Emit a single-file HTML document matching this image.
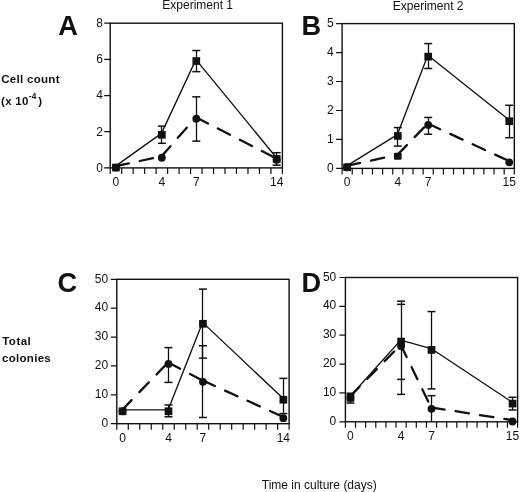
<!DOCTYPE html>
<html><head><meta charset="utf-8"><style>
html,body{margin:0;padding:0;background:#fff;}
body{width:520px;height:492px;overflow:hidden;}
svg{display:block;filter:grayscale(1);font-family:"Liberation Sans", sans-serif;font-size:12px;fill:#111;}
</style></head><body>
<svg width="520" height="492" viewBox="0 0 520 492">
<text x="162.3" y="9" font-size="12">Experiment 1</text>
<text x="392.8" y="9.9" font-size="12">Experiment 2</text>
<g font-weight="bold" font-size="11.5" letter-spacing="0.3">
<text x="1.2" y="83.2">Cell count</text>
<text x="1" y="105">(x 10<tspan font-size="8.2" dy="-6.5">-4</tspan><tspan dy="6.5" dx="1.6">)</tspan></text>
<text x="2.2" y="345.3" letter-spacing="0.5">Total</text>
<text x="2" y="361.6">colonies</text>
</g>
<text x="261.8" y="488.7" font-size="12">Time in culture (days)</text>
<g><rect x="110.2" y="23.2" width="172.2" height="144.7" fill="none" stroke="#111" stroke-width="1.4"/><path d="M110.2 167.9V173.9M121.68 167.9V173.9M133.16 167.9V173.9M144.64 167.9V173.9M156.12 167.9V173.9M167.6 167.9V173.9M179.08 167.9V173.9M190.56 167.9V173.9M202.04 167.9V173.9M213.52 167.9V173.9M225 167.9V173.9M236.48 167.9V173.9M247.96 167.9V173.9M259.44 167.9V173.9M270.92 167.9V173.9M282.4 167.9V173.9M104.2 167.9H110.2M104.2 131.72H110.2M104.2 95.55H110.2M104.2 59.38H110.2M104.2 23.2H110.2" stroke="#111" stroke-width="1.2" fill="none"/><text x="102.9" y="171.8" text-anchor="end">0</text><text x="102.9" y="135.62" text-anchor="end">2</text><text x="102.9" y="99.45" text-anchor="end">4</text><text x="102.9" y="63.27" text-anchor="end">6</text><text x="102.9" y="27.1" text-anchor="end">8</text><text x="115.94" y="185.9" text-anchor="middle">0</text><text x="161.86" y="185.9" text-anchor="middle">4</text><text x="196.3" y="185.9" text-anchor="middle">7</text><text x="276.66" y="185.9" text-anchor="middle">14</text><path d="M161.5 143.3V126.12" stroke="#111" stroke-width="1.3"/><path d="M157.86 143.3H165.86" stroke="#111" stroke-width="1.5"/><path d="M157.86 126.12H165.86" stroke="#111" stroke-width="1.5"/><path d="M196.5 71.67V50.51" stroke="#111" stroke-width="1.3"/><path d="M192.3 71.67H200.3" stroke="#111" stroke-width="1.5"/><path d="M192.3 50.51H200.3" stroke="#111" stroke-width="1.5"/><path d="M196.5 141.13V96.82" stroke="#111" stroke-width="1.3"/><path d="M192.3 141.13H200.3" stroke="#111" stroke-width="1.5"/><path d="M192.3 96.82H200.3" stroke="#111" stroke-width="1.5"/><path d="M276.5 165.19V152.71" stroke="#111" stroke-width="1.3"/><path d="M272.66 165.19H280.66" stroke="#111" stroke-width="1.5"/><path d="M272.66 152.71H280.66" stroke="#111" stroke-width="1.5"/><path d="M115.54 166.14L161.46 156.37" stroke="#111" stroke-width="2.3" stroke-dasharray="13.6 11.1" stroke-linecap="round" fill="none"/><path d="M161.46 156.37L195.9 117.3" stroke="#111" stroke-width="2.3" stroke-dasharray="13.6 11.1" stroke-linecap="round" fill="none"/><path d="M195.9 117.3L276.26 158.36" stroke="#111" stroke-width="2.3" stroke-dasharray="13.6 11.1" stroke-linecap="round" fill="none"/><path d="M115.54 166.14L161.46 133.4L195.9 59.6L276.26 157.46" stroke="#111" stroke-width="1.35" fill="none" stroke-linejoin="round"/><circle cx="115.94" cy="167.54" r="3.9" fill="#111"/><circle cx="161.86" cy="157.77" r="3.9" fill="#111"/><circle cx="196.3" cy="118.7" r="3.9" fill="#111"/><circle cx="276.66" cy="159.76" r="3.9" fill="#111"/><rect x="112.09" y="163.69" width="7.7" height="7.7" fill="#111"/><rect x="158.01" y="130.95" width="7.7" height="7.7" fill="#111"/><rect x="192.45" y="57.15" width="7.7" height="7.7" fill="#111"/><rect x="272.81" y="155.01" width="7.7" height="7.7" fill="#111"/><text x="58.3" y="34.5" font-size="27.2" font-weight="bold">A</text></g>
<g><rect x="342.1" y="23.6" width="172.2" height="144.8" fill="none" stroke="#111" stroke-width="1.4"/><path d="M342.1 168.4V174.4M352.23 168.4V174.4M362.36 168.4V174.4M372.49 168.4V174.4M382.62 168.4V174.4M392.75 168.4V174.4M402.88 168.4V174.4M413.01 168.4V174.4M423.14 168.4V174.4M433.26 168.4V174.4M443.39 168.4V174.4M453.52 168.4V174.4M463.65 168.4V174.4M473.78 168.4V174.4M483.91 168.4V174.4M494.04 168.4V174.4M504.17 168.4V174.4M514.3 168.4V174.4M336.1 168.4H342.1M336.1 139.44H342.1M336.1 110.48H342.1M336.1 81.52H342.1M336.1 52.56H342.1M336.1 23.6H342.1" stroke="#111" stroke-width="1.2" fill="none"/><text x="333.8" y="171.5" text-anchor="end">0</text><text x="333.8" y="142.54" text-anchor="end">1</text><text x="333.8" y="113.58" text-anchor="end">2</text><text x="333.8" y="84.62" text-anchor="end">3</text><text x="333.8" y="55.66" text-anchor="end">4</text><text x="333.8" y="26.7" text-anchor="end">5</text><text x="347.16" y="186.4" text-anchor="middle">0</text><text x="397.81" y="186.4" text-anchor="middle">4</text><text x="428.2" y="186.4" text-anchor="middle">7</text><text x="509.24" y="186.4" text-anchor="middle">15</text><path d="M397.5 146.1V127.57" stroke="#111" stroke-width="1.3"/><path d="M393.81 146.1H401.81" stroke="#111" stroke-width="1.5"/><path d="M393.81 127.57H401.81" stroke="#111" stroke-width="1.5"/><path d="M428.5 68.49V43.58" stroke="#111" stroke-width="1.3"/><path d="M424.2 68.49H432.2" stroke="#111" stroke-width="1.5"/><path d="M424.2 43.58H432.2" stroke="#111" stroke-width="1.5"/><path d="M428.5 134.23V117.43" stroke="#111" stroke-width="1.3"/><path d="M424.2 134.23H432.2" stroke="#111" stroke-width="1.5"/><path d="M424.2 117.43H432.2" stroke="#111" stroke-width="1.5"/><path d="M509.5 137.7V105.27" stroke="#111" stroke-width="1.3"/><path d="M505.24 137.7H513.24" stroke="#111" stroke-width="1.5"/><path d="M505.24 105.27H513.24" stroke="#111" stroke-width="1.5"/><path d="M346.76 165.84L397.41 154.84" stroke="#111" stroke-width="2.3" stroke-dasharray="13.6 11.1" stroke-linecap="round" fill="none"/><path d="M397.41 154.84L427.8 123.56" stroke="#111" stroke-width="2.3" stroke-dasharray="13.6 11.1" stroke-linecap="round" fill="none"/><path d="M427.8 123.56L508.84 160.92" stroke="#111" stroke-width="2.3" stroke-dasharray="13.6 11.1" stroke-linecap="round" fill="none"/><path d="M346.76 165.84L397.41 134.56L427.8 55.21L508.84 119.8" stroke="#111" stroke-width="1.35" fill="none" stroke-linejoin="round"/><circle cx="347.16" cy="167.24" r="3.9" fill="#111"/><rect x="393.96" y="152.69" width="7.7" height="7.1" rx="1.2" fill="#111"/><circle cx="428.2" cy="124.96" r="3.9" fill="#111"/><circle cx="509.24" cy="162.32" r="3.9" fill="#111"/><rect x="343.31" y="163.39" width="7.7" height="7.7" fill="#111"/><rect x="393.96" y="132.11" width="7.7" height="7.7" fill="#111"/><rect x="424.35" y="52.76" width="7.7" height="7.7" fill="#111"/><rect x="505.39" y="117.35" width="7.7" height="7.7" fill="#111"/><text x="301.4" y="34.9" font-size="27.2" font-weight="bold">B</text></g>
<g><rect x="116.8" y="279.3" width="172.3" height="144.4" fill="none" stroke="#111" stroke-width="1.4"/><path d="M116.8 423.7V429.7M128.29 423.7V429.7M139.77 423.7V429.7M151.26 423.7V429.7M162.75 423.7V429.7M174.23 423.7V429.7M185.72 423.7V429.7M197.21 423.7V429.7M208.69 423.7V429.7M220.18 423.7V429.7M231.67 423.7V429.7M243.15 423.7V429.7M254.64 423.7V429.7M266.13 423.7V429.7M277.61 423.7V429.7M289.1 423.7V429.7M110.8 423.7H116.8M110.8 394.82H116.8M110.8 365.94H116.8M110.8 337.06H116.8M110.8 308.18H116.8M110.8 279.3H116.8" stroke="#111" stroke-width="1.2" fill="none"/><text x="108.1" y="426.9" text-anchor="end">0</text><text x="108.1" y="398.02" text-anchor="end">10</text><text x="108.1" y="369.14" text-anchor="end">20</text><text x="108.1" y="340.26" text-anchor="end">30</text><text x="108.1" y="311.38" text-anchor="end">40</text><text x="108.1" y="282.5" text-anchor="end">50</text><text x="122.54" y="441.7" text-anchor="middle">0</text><text x="168.49" y="441.7" text-anchor="middle">4</text><text x="202.95" y="441.7" text-anchor="middle">7</text><text x="283.36" y="441.7" text-anchor="middle">14</text><path d="M168.5 416.77V404.93" stroke="#111" stroke-width="1.3"/><path d="M164.49 416.77H172.49" stroke="#111" stroke-width="1.5"/><path d="M164.49 404.93H172.49" stroke="#111" stroke-width="1.5"/><path d="M202.5 358.14V289.12" stroke="#111" stroke-width="1.3"/><path d="M198.95 358.14H206.95" stroke="#111" stroke-width="1.5"/><path d="M198.95 289.12H206.95" stroke="#111" stroke-width="1.5"/><path d="M168.5 382.4V347.6" stroke="#111" stroke-width="1.3"/><path d="M164.49 382.4H172.49" stroke="#111" stroke-width="1.5"/><path d="M164.49 347.6H172.49" stroke="#111" stroke-width="1.5"/><path d="M202.5 417.49V345.72" stroke="#111" stroke-width="1.3"/><path d="M198.95 417.49H206.95" stroke="#111" stroke-width="1.5"/><path d="M198.95 345.72H206.95" stroke="#111" stroke-width="1.5"/><path d="M283.5 413.59V378.36" stroke="#111" stroke-width="1.3"/><path d="M279.36 413.59H287.36" stroke="#111" stroke-width="1.5"/><path d="M279.36 378.36H287.36" stroke="#111" stroke-width="1.5"/><path d="M122.14 409.88L168.09 362.52" stroke="#111" stroke-width="2.3" stroke-dasharray="13.6 11.1" stroke-linecap="round" fill="none"/><path d="M168.09 362.52L202.55 380.42" stroke="#111" stroke-width="2.3" stroke-dasharray="13.6 11.1" stroke-linecap="round" fill="none"/><path d="M202.55 380.42L282.96 416.81" stroke="#111" stroke-width="2.3" stroke-dasharray="13.6 11.1" stroke-linecap="round" fill="none"/><path d="M122.14 409.88L168.09 409.88L202.55 322.38L282.96 398.33" stroke="#111" stroke-width="1.35" fill="none" stroke-linejoin="round"/><circle cx="122.54" cy="411.28" r="3.9" fill="#111"/><circle cx="168.49" cy="363.92" r="3.9" fill="#111"/><circle cx="202.95" cy="381.82" r="3.9" fill="#111"/><circle cx="283.36" cy="418.21" r="3.9" fill="#111"/><rect x="118.69" y="407.43" width="7.7" height="7.7" fill="#111"/><rect x="164.64" y="407.43" width="7.7" height="7.7" fill="#111"/><rect x="199.1" y="319.93" width="7.7" height="7.7" fill="#111"/><rect x="279.51" y="395.88" width="7.7" height="7.7" fill="#111"/><text x="57.6" y="291.7" font-size="27.2" font-weight="bold">C</text></g>
<g><rect x="345.4" y="277.5" width="172.2" height="144.3" fill="none" stroke="#111" stroke-width="1.4"/><path d="M345.4 421.8V427.8M355.53 421.8V427.8M365.66 421.8V427.8M375.79 421.8V427.8M385.92 421.8V427.8M396.05 421.8V427.8M406.18 421.8V427.8M416.31 421.8V427.8M426.44 421.8V427.8M436.56 421.8V427.8M446.69 421.8V427.8M456.82 421.8V427.8M466.95 421.8V427.8M477.08 421.8V427.8M487.21 421.8V427.8M497.34 421.8V427.8M507.47 421.8V427.8M517.6 421.8V427.8M339.4 421.8H345.4M339.4 392.94H345.4M339.4 364.08H345.4M339.4 335.22H345.4M339.4 306.36H345.4M339.4 277.5H345.4" stroke="#111" stroke-width="1.2" fill="none"/><text x="336.3" y="424.8" text-anchor="end">0</text><text x="336.3" y="395.94" text-anchor="end">10</text><text x="336.3" y="367.08" text-anchor="end">20</text><text x="336.3" y="338.22" text-anchor="end">30</text><text x="336.3" y="309.36" text-anchor="end">40</text><text x="336.3" y="280.5" text-anchor="end">50</text><text x="350.46" y="439.8" text-anchor="middle">0</text><text x="401.11" y="439.8" text-anchor="middle">4</text><text x="431.5" y="439.8" text-anchor="middle">7</text><text x="512.54" y="439.8" text-anchor="middle">15</text><path d="M350.5 403.04V393.23" stroke="#111" stroke-width="1.3"/><path d="M346.46 403.04H354.46" stroke="#111" stroke-width="1.5"/><path d="M346.46 393.23H354.46" stroke="#111" stroke-width="1.5"/><path d="M401.5 394.38V301.17" stroke="#111" stroke-width="1.3"/><path d="M397.11 394.38H405.11" stroke="#111" stroke-width="1.5"/><path d="M397.11 379.38H405.11" stroke="#111" stroke-width="1.5"/><path d="M397.11 304.34H405.11" stroke="#111" stroke-width="1.5"/><path d="M397.11 301.17H405.11" stroke="#111" stroke-width="1.5"/><path d="M431.5 388.9V311.55" stroke="#111" stroke-width="1.3"/><path d="M427.5 388.9H435.5" stroke="#111" stroke-width="1.5"/><path d="M427.5 311.55H435.5" stroke="#111" stroke-width="1.5"/><path d="M431.5 421.8V395.68" stroke="#111" stroke-width="1.3"/><path d="M427.5 395.68H435.5" stroke="#111" stroke-width="1.5"/><path d="M512.5 409.97V397.27" stroke="#111" stroke-width="1.3"/><path d="M508.54 409.97H516.54" stroke="#111" stroke-width="1.5"/><path d="M508.54 397.27H516.54" stroke="#111" stroke-width="1.5"/><path d="M350.06 396.45L400.71 344.79" stroke="#111" stroke-width="2.3" stroke-dasharray="13.6 11.1" stroke-linecap="round" fill="none"/><path d="M400.71 344.79L431.1 407.41" stroke="#111" stroke-width="2.3" stroke-dasharray="13.6 11.1" stroke-linecap="round" fill="none"/><path d="M431.1 407.41L512.14 420.11" stroke="#111" stroke-width="2.3" stroke-dasharray="13.6 11.1" stroke-linecap="round" fill="none"/><path d="M350.06 396.45L400.71 340.17L431.1 348.54L512.14 402.22" stroke="#111" stroke-width="1.35" fill="none" stroke-linejoin="round"/><circle cx="350.46" cy="397.85" r="3.9" fill="#111"/><circle cx="401.11" cy="346.19" r="3.9" fill="#111"/><circle cx="431.5" cy="408.81" r="3.9" fill="#111"/><circle cx="512.54" cy="421.51" r="3.9" fill="#111"/><rect x="346.61" y="394" width="7.7" height="7.7" fill="#111"/><rect x="397.26" y="337.72" width="7.7" height="7.7" fill="#111"/><rect x="427.65" y="346.09" width="7.7" height="7.7" fill="#111"/><rect x="508.69" y="399.77" width="7.7" height="7.7" fill="#111"/><text x="301.4" y="292.1" font-size="27.2" font-weight="bold">D</text></g>
</svg>
</body></html>
